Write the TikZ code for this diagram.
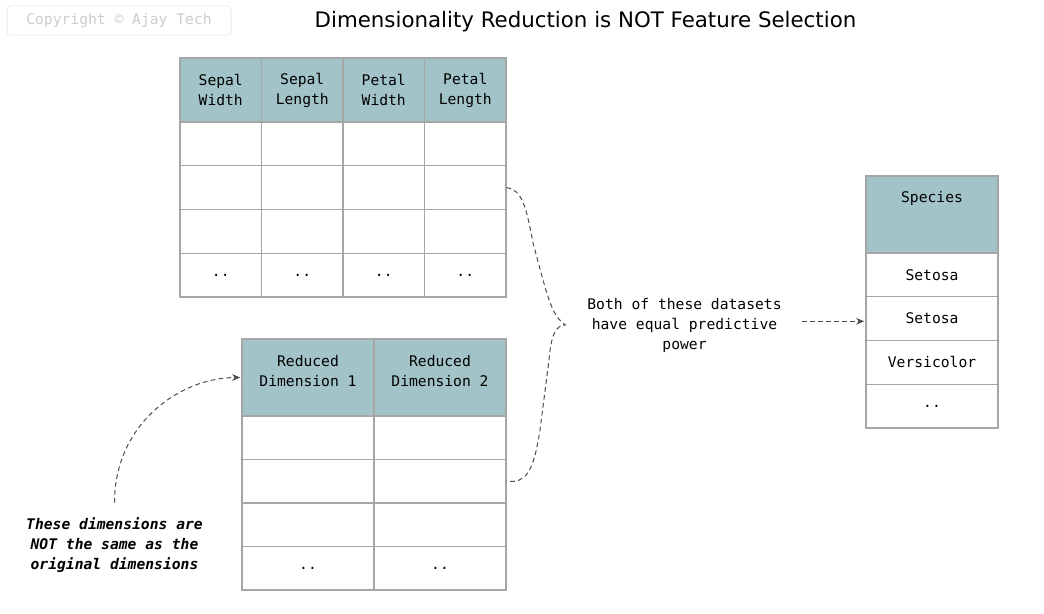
\documentclass[tikz,border=0pt]{standalone}
\usepackage{fontspec}
\setmainfont{DejaVu Sans}
\setmonofont{DejaVu Sans Mono}
\usetikzlibrary{arrows.meta}

\definecolor{headfill}{HTML}{A2C4C9}
\definecolor{gridline}{HTML}{A6A6A6}
\definecolor{dashgray}{HTML}{4D4D4D}
\definecolor{faint}{HTML}{DDDDDD}
\definecolor{fainttext}{HTML}{CCCCCC}

\tikzset{
  cell/.style={draw=gridline, line width=0.8pt, fill=white, inner sep=0pt,
    align=center, font=\ttfamily\fontsize{11}{15}\selectfont},
  head/.style={cell, fill=headfill},
  conn/.style={draw=dashgray, line width=0.75pt, dash pattern=on 3.5pt off 2.5pt},
  tip/.style={-{Stealth[length=6pt,width=5pt]}}
}

\begin{document}
\begin{tikzpicture}[x=0.75pt,y=-0.75pt]
    \useasboundingbox (0,0) rectangle (1044,613);
    % Watermark and title
    \node[draw=faint, rounded corners=3pt, minimum width=168pt, minimum height=22pt,
      text=fainttext, font=\ttfamily\fontsize{11}{13}\selectfont] (copy) at (119,20.5) {Copyright © Ajay Tech};
    \node[font=\fontsize{16}{19}\selectfont] (title) at (585.5,22) {Dimensionality Reduction is NOT Feature Selection};
    % Original features
    \foreach \lbl [count=\i] in {Sepal\\Width, Sepal\\Length, Petal\\Width, Petal\\Length}{
      \node[head, minimum width=61.1pt, minimum height=48pt] (feat-0-\i) at ({180+81.5*(\i-0.5)},90) {\lbl};
      \foreach \j in {1,...,4}
        \node[cell, minimum width=61.1pt, minimum height=32.8pt] (feat-\j-\i)
          at ({180+81.5*(\i-0.5)},{122+43.75*(\j-0.5)}) {\ifnum\j=4 \raisebox{-2pt}{..}\fi};
    }
    % Reduced dimensions
    \foreach \lbl [count=\i] in {Reduced\\Dimension 1, Reduced\\Dimension 2}{
      \node[head, minimum width=99pt, minimum height=57.75pt, text depth=10pt] (red-0-\i) at ({242+132*(\i-0.5)},377.5) {\lbl};
      \foreach \j in {1,...,4}
        \node[cell, minimum width=99pt, minimum height=32.6pt] (red-\j-\i)
          at ({242+132*(\i-0.5)},{416+43.5*(\j-0.5)}) {\ifnum\j=4 \raisebox{-2pt}{..}\fi};
    }
    % Target column
    \node[head, minimum width=99pt, minimum height=57.75pt, text depth=26pt] (spec-0) at (932,214.5) {Species};
    \foreach \lbl [count=\j] in {Setosa, Setosa, Versicolor, \raisebox{-2pt}{..}}
      \node[cell, minimum width=99pt, minimum height=32.8pt] (spec-\j) at (932,{253+43.75*(\j-0.5)}) {\lbl};
    % Notes
    \node[align=center, font=\ttfamily\fontsize{11}{15}\selectfont] (claim) at (684.5,325)
      {Both of these datasets\\have equal predictive\\power};
    \node[align=center, font=\ttfamily\bfseries\itshape\fontsize{11}{15}\selectfont] (note) at (114.5,545.5)
      {These dimensions are\\NOT the same as the\\original dimensions};
    \coordinate (brace-tip) at ([xshift=-13pt]claim.west);
    % Brace joining both datasets
    \draw[conn] (feat-2-4.east) .. controls +(15,2) and (526,205) .. (533,243) -- (543,280)
      .. controls (550,305) and (555,318) .. (brace-tip)
      .. controls (556,325) and (551,335) .. (549,360) -- (540,430)
      .. controls (533,475) and (525,483) .. (red-2-2.east);
    % Arrows
    \draw[conn, tip, shorten <=12pt, shorten >=1pt] ([yshift=-2pt]claim.east |- spec-2.west) -- ([yshift=-2pt]spec-2.west);
    \draw[conn, tip, shorten >=1pt] ([yshift=8pt]note.north) .. controls +(0,-80) and +(-60,0) .. (red-0-1.west);
  \end{tikzpicture}
\end{document}
